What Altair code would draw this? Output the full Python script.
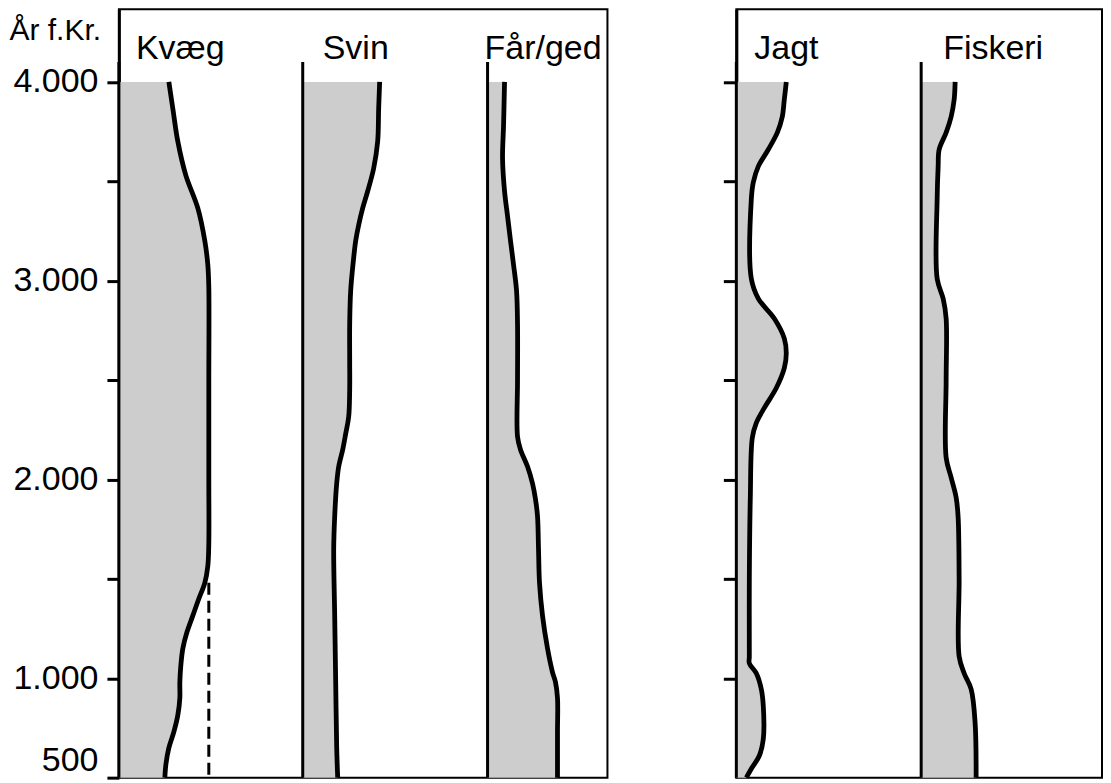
import altair as alt
import pandas as pd

# ---------------- data ----------------
series = ["Kvæg", "Svin", "Får/ged", "Jagt", "Fiskeri"]
panel = ["A", "A", "A", "B", "B"]

kvaeg_year = [4000, 3865, 3700, 3530, 3365, 3200, 3080, 2965, 2500, 2000, 1680, 1565, 1480, 1400, 1315, 1230, 1150, 1065, 980, 900, 815, 730, 650, 565, 500]
kvaeg_w = [50, 54, 59, 67, 79, 86, 89, 90, 90, 90, 90, 89, 86, 80, 74, 68, 64, 62, 61, 61, 59, 55, 50, 47, 46]

svin_year = [4000, 3865, 3700, 3565, 3450, 3365, 3280, 3200, 3115, 2950, 2780, 2600, 2450, 2315, 2230, 2150, 2065, 1980, 1815, 1650, 1315, 980, 650, 500]
svin_w = [77, 76, 75, 71, 65, 60, 56, 53, 51, 48, 47, 47, 47, 46, 43, 40, 36, 34, 32, 31, 32, 33, 34, 35]

faar_year = [4000, 3780, 3615, 3450, 3325, 3200, 3080, 2950, 2780, 2500, 2215, 2150, 2065, 1980, 1900, 1815, 1650, 1480, 1315, 1150, 1030, 980, 900, 730, 500]
faar_w = [17, 16, 15, 17, 20, 23, 26, 29, 30, 30, 30, 33, 40, 45, 48, 50, 51, 52, 55, 60, 65, 68, 70, 70, 70]

jagt_year = [4000, 3910, 3825, 3745, 3660, 3575, 3495, 3410, 3010, 2910, 2810, 2710, 2635, 2560, 2460, 2360, 2285, 2210, 1910, 1500, 1110, 1075, 1025, 945, 860, 695, 610, 545, 500]
jagt_w = [50, 48, 46, 41, 32, 22, 17, 15, 15, 22, 38, 48, 50, 48, 40, 28, 20, 16, 14, 13, 13, 13, 20, 25, 27, 27, 23, 15, 10]

fisk_year = [4000, 3910, 3825, 3745, 3660, 3575, 3410, 3010, 2910, 2810, 2500, 2110, 2010, 1910, 1810, 1500, 1110, 1025, 945, 775, 500]
fisk_w = [34, 33, 30, 25, 18, 17, 16, 16, 22, 25, 25, 25, 30, 35, 37, 38, 38, 43, 50, 54, 55]

tick_years = [500, 1000, 1500, 2000, 2500, 3000, 3500, 4000]
right_tick_years = [1000, 1500, 2000, 2500, 3000, 3500, 4000]
dash_from, dash_to, dash_level = 1480, 500, 90   # dashed Kvæg line
baseline_top = 4100

# ---------------- layout (not data) ----------------
OFFSET = {"Kvæg": 0, "Svin": 184, "Får/ged": 369, "Jagt": 0, "Fiskeri": 185}
HEADER_X = {"Kvæg": 17, "Svin": 204, "Får/ged": 366, "Jagt": 18, "Fiskeri": 207}
FONT = "Liberation Sans"
LEFT_W, RIGHT_W, H = 489, 366, 769
YDOM = [500, 4365]

# ---------------- tables ----------------
years = [kvaeg_year, svin_year, faar_year, jagt_year, fisk_year]
widths = [kvaeg_w, svin_w, faar_w, jagt_w, fisk_w]
rows = []
for s, p, ys, ws in zip(series, panel, years, widths):
    for y, w in zip(ys, ws):
        rows.append({"series": s, "panel": p, "year": y, "w": w, "off": OFFSET[s]})
df = pd.DataFrame(rows)

base_df = pd.DataFrame({
    "series": series, "panel": panel,
    "off": [OFFSET[s] for s in series],
    "hx": [HEADER_X[s] for s in series],
    "top": [baseline_top] * 5, "bottom": [YDOM[0]] * 5,
})
dash_df = pd.DataFrame({"x": [dash_level], "y1": [dash_from], "y2": [dash_to]})

yscale = alt.Scale(domain=YDOM, nice=False, zero=False)

label_expr = ("datum.value == 500 || datum.value % 1000 == 0 ? "
              "replace(format(datum.value, ','), ',', '.') : ''")

left_axis = alt.Axis(
    values=tick_years, labelExpr=label_expr, tickSize=12, labelFontSize=34,
    labelFont=FONT, labelColor="black", labelPadding=9, labelFlush=True,
    grid=False, title="År f.Kr.", titleAngle=0, titleAlign="left",
    titleBaseline="middle", titleX=-110, titleY=21, titleFontSize=30,
    titleFont=FONT, titleFontWeight="normal", titleColor="black",
    domainColor="black", domainWidth=3, tickColor="black", tickWidth=3,
)
right_axis = alt.Axis(values=right_tick_years, labels=False, tickSize=13,
                      grid=False, title=None,
                      domainColor="black", domainWidth=3, tickColor="black", tickWidth=3)


def panel_chart(p, width, axis, extra=None):
    xscale = alt.Scale(domain=[0, width], nice=False, zero=False)
    d = df[df.panel == p]
    b = base_df[base_df.panel == p]
    area = alt.Chart(d).mark_area(
        orient="horizontal", color="#cdcdcd", interpolate="catmull-rom"
    ).transform_calculate(x="datum.off + datum.w").encode(
        x=alt.X("x:Q", scale=xscale, axis=None),
        x2=alt.X2("off:Q"),
        y=alt.Y("year:Q", scale=yscale, axis=axis),
        detail="series:N",
    )
    line = alt.Chart(d).mark_line(
        color="black", strokeWidth=4.8, interpolate="catmull-rom"
    ).transform_calculate(x="datum.off + datum.w").encode(
        x=alt.X("x:Q", scale=xscale, axis=None),
        y=alt.Y("year:Q", scale=yscale, axis=axis),
        detail="series:N",
        order=alt.Order("year:Q", sort="descending"),
    )
    rules = alt.Chart(b).mark_rule(color="black", strokeWidth=3).encode(
        x=alt.X("off:Q", scale=xscale, axis=None),
        y=alt.Y("top:Q", scale=yscale, axis=axis),
        y2="bottom:Q",
    )
    text = alt.Chart(b).mark_text(
        align="left", baseline="alphabetic", font=FONT, fontSize=34, color="black"
    ).encode(
        x=alt.X("hx:Q", scale=xscale, axis=None),
        y=alt.value(50),
        text="series:N",
    )
    layers = [area, line, rules, text]
    if extra is not None:
        layers.append(extra(xscale))
    return alt.layer(*layers).properties(
        width=width, height=H,
        view=alt.ViewBackground(stroke="black", strokeWidth=2, fill="white"),
    )


def dashed(xscale):
    return alt.Chart(dash_df).mark_rule(
        color="black", strokeWidth=3, strokeDash=[12, 6]
    ).encode(
        x=alt.X("x:Q", scale=xscale, axis=None),
        y=alt.Y("y1:Q", scale=yscale),
        y2="y2:Q",
    )


left = panel_chart("A", LEFT_W, left_axis, dashed)
right = panel_chart("B", RIGHT_W, right_axis)

chart = alt.hconcat(left, right, spacing=112).properties(
    padding={"left": 0, "top": 0, "right": 0, "bottom": 0},
    background="white",
).configure_view(
    stroke="black", strokeWidth=2
).configure_axis(
    domainColor="black", domainWidth=3, tickColor="black", tickWidth=3
)

chart.save("out.html", embed_options={"renderer": "svg", "actions": False})
